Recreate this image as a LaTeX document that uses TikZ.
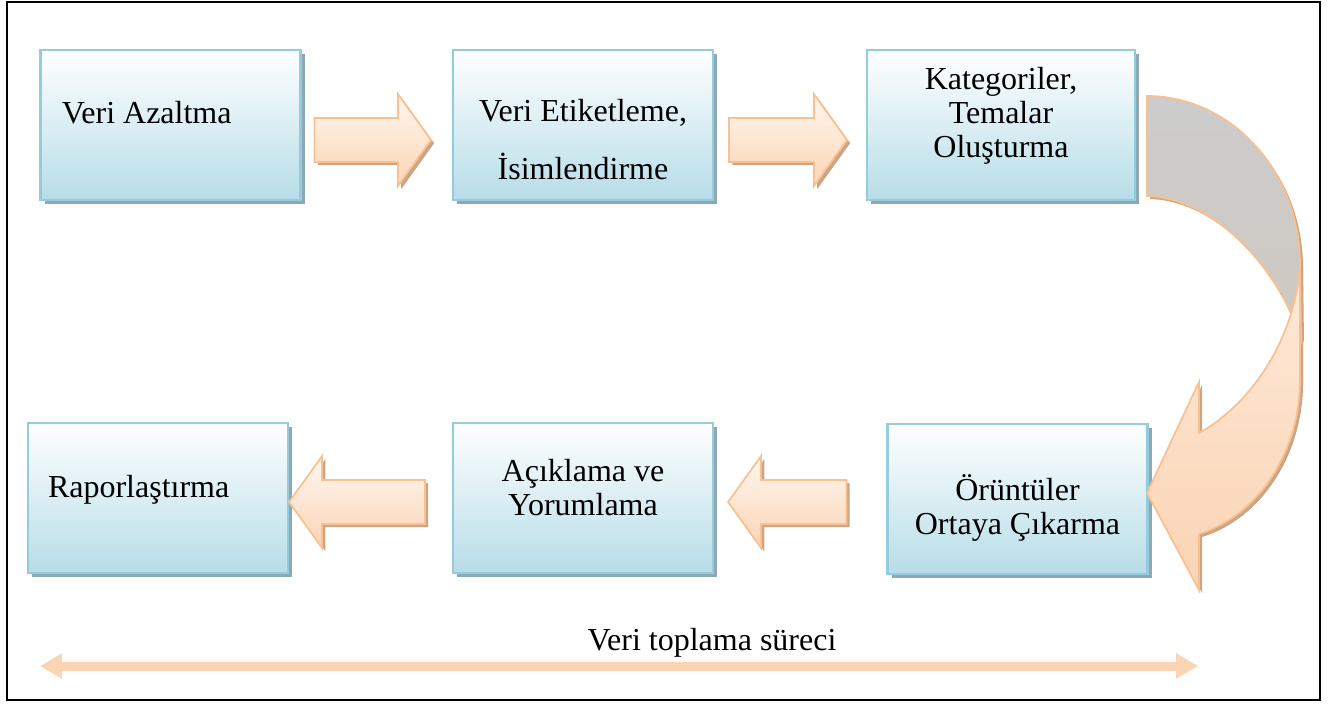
\documentclass[tikz,border=0pt]{standalone}
\usepackage{fontspec}
\setmainfont{Liberation Serif}
\usepackage{tikz}
\usetikzlibrary{calc,shadows,arrows.meta}

\definecolor{kutukenar}{HTML}{93CDDD}
\definecolor{kutualt}{HTML}{B7DDE8}
\definecolor{kutugolge}{HTML}{8EA9B4}
\definecolor{okkenar}{HTML}{FAC08F}
\definecolor{okust}{HTML}{FFF7F0}
\definecolor{okalt}{HTML}{FBD4B4}
\definecolor{okgolge}{HTML}{CCA585}
\definecolor{arkagri}{HTML}{CCCCCC}
\definecolor{arkagrialt}{HTML}{D0C8C2}

\newcommand{\ortametin}[2]{\raisebox{#1}[0pt][0pt]{\begin{tabular}{@{}c@{}}#2\end{tabular}}}
\newcommand{\solmetin}[3]{\raisebox{#1}[0pt][0pt]{\makebox[#2][l]{#3}}}
% blok ok: #1 kuyruk, #2 uc, #3 bas boyu (saga -33, sola 33), #4 stil
\newcommand{\blokok}[4]{%
  \path[#4] ($(#1)+(0,-22)$) -- ($(#2)+(#3,-22)$) -- ($(#2)+(#3,-46)$) -- (#2)
    -- ($(#2)+(#3,46)$) -- ($(#2)+(#3,22)$) -- ($(#1)+(0,22)$) -- cycle;}
% egri ok parcalari
\newcommand{\arkayol}{(1147,96) .. controls (1230,96) and (1300,170) .. (1300,265)
    -- (1301,340) .. controls (1280,270) and (1215,198) .. (1147,196) -- cycle}
\newcommand{\onyol}{(1300,265) -- (1300,380) .. controls (1300,450) and (1260,515) .. (1199,534)
    -- (1199,590) -- (1147,493) -- (1199,382) -- (1199,433)
    .. controls (1250,405) and (1295,340) .. (1300,265) -- cycle}

\begin{document}
\begin{tikzpicture}[x=0.75pt,y=-0.75pt]

    \tikzstyle{every node}=[font=\fontsize{24}{25.5}\selectfont]
    \tikzstyle{kutu}=[draw=kutukenar, line width=1.6pt, top color=white, bottom color=kutualt,
        minimum width=195pt, minimum height=112.5pt, inner sep=0pt,
        drop shadow={shadow xshift=3pt, shadow yshift=-3pt, fill=kutugolge, opacity=1}]
    \tikzstyle{okgovde}=[draw=okkenar, line width=1.3pt, top color=okust, bottom color=okalt]
    \tikzstyle{okgolgesi}=[fill=okgolge, transform canvas={shift={(2.4pt,-2.4pt)}}]

    \useasboundingbox (0,0) rectangle (1333,704);
    \draw[line width=1.5pt] (7,2) rectangle (1320,700);

    \node[kutu] (b1) at (170.5,125) {\solmetin{1.5pt}{163pt}{Veri Azaltma}};
    \node[kutu] (b2) at (583,125) {\ortametin{-20.4pt}{Veri Etiketleme,\\[15.75pt] İsimlendirme}};
    \node[kutu, minimum width=201pt] (b3) at (1001,125) {\ortametin{0pt}{Kategoriler,\\ Temalar\\ Oluşturma}};
    \node[kutu] (b4) at (158,498) {\solmetin{0.4pt}{165pt}{Raporlaştırma}};
    \node[kutu] (b5) at (583,498) {\ortametin{-1.6pt}{Açıklama ve\\ Yorumlama}};
    \node[kutu] (b6) at (1017.5,499) {\ortametin{-14.4pt}{Örüntüler\\ Ortaya Çıkarma}};

    % duz oklar
    \coordinate (k1) at ($(b1.east)+(13,15)$);
    \coordinate (u1) at ($(b2.west)+(-21,15)$);
    \coordinate (k2) at ($(b2.east)+(15,15)$);
    \coordinate (u2) at ($(b3.west)+(-19,15)$);
    \coordinate (k3) at ($(b5.west)+(-27,4)$);
    \coordinate (u3) at ($(b4.east)+(0,4)$);
    \coordinate (k4) at ($(b6.west)+(-40,3)$);
    \coordinate (u4) at ($(b5.east)+(14,4)$);
    \blokok{k1}{u1}{-33}{okgolgesi}
    \blokok{k1}{u1}{-33}{okgovde}
    \blokok{k2}{u2}{-33}{okgolgesi}
    \blokok{k2}{u2}{-33}{okgovde}
    \blokok{k3}{u3}{33}{okgolgesi}
    \blokok{k3}{u3}{33}{okgovde}
    \blokok{k4}{u4}{33}{okgolgesi}
    \blokok{k4}{u4}{33}{okgovde}

    % egri ok
    \fill[okgolge, shift={(3,3)}] \arkayol;
    \fill[okgolge, shift={(3,3)}] \onyol;
    \path[draw=okkenar, line width=1.3pt, top color=arkagri, bottom color=arkagrialt] \arkayol;
    \path[draw=okkenar, line width=1.3pt, top color=okust!60!okalt, bottom color=okalt] \onyol;

    % veri toplama sureci
    \node (surec) at (712,643) {Veri toplama süreci};
    \coordinate (sol) at (40,666);
    \coordinate (sag) at (1198,666);
    \draw[okalt, line width=6.75pt, {Triangle[length=16.5pt,width=18pt]}-{Triangle[length=16.5pt,width=18pt]}] (sol) -- (sag);

\end{tikzpicture}
\end{document}
